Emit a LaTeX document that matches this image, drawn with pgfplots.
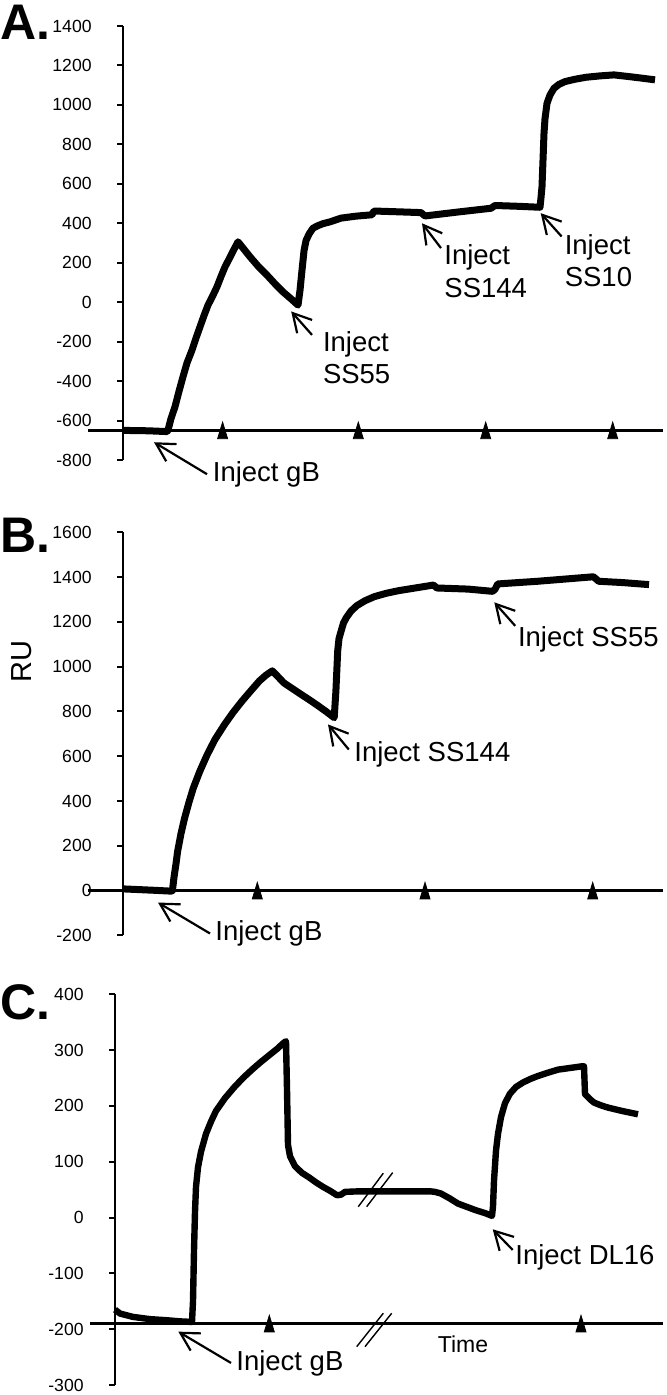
\documentclass[border=0pt]{standalone}
\usepackage{pgfplots}
\pgfplotsset{compat=1.18}
\usepackage{fontspec}
\setmainfont{Liberation Sans}
\usetikzlibrary{arrows.meta}

\newcommand\af{\fontsize{13.75}{16}\selectfont}
\pgfplotsset{panel/.style={
  scale only axis, clip=false,
  axis x line=none, axis y line*=left,
  xmin=0, xtick=\empty,
  tick align=outside, ytick pos=left,
  major tick length=3pt,
  axis line style={line width=1pt, black},
  every tick/.style={line width=1pt, black},
  yticklabel style={font=\fontsize{8.8}{10}\selectfont, anchor=east, inner sep=0pt, xshift=-12.5pt},
  /pgf/number format/assume math mode=true,
  /pgf/number format/1000 sep={},
}}
\tikzset{
  arr/.style={line width=1.1pt, -{Straight Barb[length=9pt, width=10pt]}},
  curve/.style={line width=3.5pt, line join=round, no marks, black},
  tri/.style={only marks, mark=triangle*, mark size=2.9pt, mark options={fill=black, draw=black, yshift=-1.4pt, yscale=1.9}},
}

\begin{document}
\begin{tikzpicture}
\useasboundingbox (0,0) rectangle (333pt,697.5pt);
\node[anchor=base west, inner sep=0pt, font=\fontsize{25}{30}\selectfont\bfseries] at (0pt,677.5pt) {A.};
\node[anchor=base west, inner sep=0pt, font=\fontsize{25}{30}\selectfont\bfseries] at (0pt,421pt) {B.};
\node[anchor=base west, inner sep=0pt, font=\fontsize{25}{30}\selectfont\bfseries] at (0pt,187.5pt) {C.};
\node[rotate=90, inner sep=0pt, font=\fontsize{14.5}{16}\selectfont] at (11pt,366.5pt) {RU};

% ---------------- Panel A ----------------
\begin{axis}[panel, at={(61.5pt,467.5pt)}, anchor=south west,
  width=270pt, height=217pt, xmax=540, ymin=-800, ymax=1400,
  ytick={-800,-600,...,1400}]
\draw[line width=1.2pt] (axis cs:-35,-650) -- (axis cs:540,-650);
\addplot[curve] coordinates {
(0,-650) (25,-652) (44,-656) (45,-649) (48,-590) (52,-530) (56,-452) (60,-378)
(64,-308) (69,-243) (73,-182) (77,-125) (81,-68) (85,-15) (90,35) (94,78)
(98,130) (102,179) (106,218) (110,258) (115,306) (121,268) (127,230) (135,183)
(144,137) (152,93) (160,52) (168,17) (175,-15) (177,60) (179,162) (181,260)
(183,312) (186,345) (190,375) (195,388) (200,398) (207,407) (218,426) (233,436)
(249,443) (251,462) (275,458) (298,454) (302,437) (335,457) (368,476) (372,490)
(395,486) (417,481) (418,530) (419,586) (420,720) (421,856) (422,930) (424,1008)
(427,1050) (431,1084) (436,1104) (442,1118) (452,1130) (463,1140) (477,1147)
(491,1152) (505,1144) (518,1136) (532,1127)};
\addplot[tri] coordinates {(99.6,-650) (235.3,-650) (362.7,-650) (489.7,-650)};
\draw[arr] (axis cs:84,-872) -- (axis cs:31,-710);
\node[anchor=base west, inner sep=0pt, font=\af] at (axis cs:89.5,-909) {Inject gB};
\draw[arr] (axis cs:189,-166) -- (axis cs:168.2,-47);
\node[anchor=base west, inner sep=0pt, font=\af] at (axis cs:199.6,-250) {Inject};
\node[anchor=base west, inner sep=0pt, font=\af] at (axis cs:199.6,-410) {SS55};
\draw[arr] (axis cs:318,274) -- (axis cs:299,400);
\node[anchor=base west, inner sep=0pt, font=\af] at (axis cs:321,189) {Inject};
\node[anchor=base west, inner sep=0pt, font=\af] at (axis cs:321,24) {SS144};
\draw[arr] (axis cs:438.6,333) -- (axis cs:417.7,451);
\node[anchor=base west, inner sep=0pt, font=\af] at (axis cs:441.4,240) {Inject};
\node[anchor=base west, inner sep=0pt, font=\af] at (axis cs:441.4,79) {SS10};
\end{axis}

% ---------------- Panel B ----------------
\begin{axis}[panel, at={(61.5pt,229.75pt)}, anchor=south west,
  width=270pt, height=201.65pt, xmax=540, ymin=-200, ymax=1600,
  ytick={-200,0,...,1600}]
\draw[line width=1.2pt] (axis cs:-35,0) -- (axis cs:540,0);
\addplot[curve] coordinates {
(0,8) (15,5) (30,2) (48,-2) (49.4,0) (51,60) (53,120) (54.6,175) (58,255)
(61.6,324) (66,395) (70.3,458) (77,535) (84.2,607) (92,675) (101.6,742)
(110,795) (119,846) (128,893) (136.4,936) (143,962) (149.3,981) (155,955)
(160.7,928) (170,900) (178.1,876) (187,850) (195.5,824) (203,800) (211.2,772)
(212.9,891) (214.7,1070) (216,1125) (218.2,1160) (220.5,1195) (223.4,1219)
(228,1248) (233.8,1272) (242,1294) (251.2,1312) (263,1327) (275.6,1339)
(296.5,1354) (310.4,1364) (313.9,1351) (345.2,1346) (369.5,1336) (372,1345)
(374.7,1369) (414.8,1381) (470.4,1401) (475.7,1381) (500,1375) (526,1366)};
\addplot[tri] coordinates {(134.3,0) (302,0) (469.7,0)};
\draw[arr] (axis cs:87,-191) -- (axis cs:35,-53);
\node[anchor=base west, inner sep=0pt, font=\af] at (axis cs:92,-222) {Inject gB};
\draw[arr] (axis cs:225.8,630) -- (axis cs:205,742);
\node[anchor=base west, inner sep=0pt, font=\af] at (axis cs:231,575) {Inject SS144};
\draw[arr] (axis cs:392.2,1182) -- (axis cs:371.3,1287);
\node[anchor=base west, inner sep=0pt, font=\af] at (axis cs:394.6,1088) {Inject SS55};
\end{axis}

% ---------------- Panel C ----------------
\begin{axis}[panel, at={(57.5pt,5pt)}, anchor=south west,
  width=274pt, height=195.35pt, xmax=548, ymin=-300, ymax=400,
  ytick={-300,-200,...,400}]
\draw[line width=1.2pt] (axis cs:-25,-190) -- (axis cs:548,-190);
\addplot[curve, line width=3.2pt] coordinates {
(0,-165) (5,-172) (18,-178) (35,-182) (52,-184) (65,-186) (77,-187) (78,-150)
(79,-60) (80,10) (81,55) (83,90) (86,118) (91,150) (96,172) (101,191) (110,214)
(119,233) (128,250) (137,265) (146,279) (155,292) (162,302) (168,312) (171,316)
(172,230) (173,130) (175,110) (180,92) (187,80) (194,72) (201,63) (208,55)
(215,48) (222,40) (226,41) (230,46) (244,47) (280,47) (315,47) (320,46)
(326,43) (335,34) (343,25) (352,19) (361,13) (370,8) (377,3) (378,20) (379,66)
(381,120) (383,150) (386,180) (390,205) (395,222) (401,234) (408,242) (415,248)
(422,253) (432,259) (443,265) (455,268) (467,271) (469,271) (470,221) (475,212)
(479,206) (486,201) (493,197) (500,194) (507,191) (515,188) (523,185)};
\addplot[tri] coordinates {(154.3,-190) (466,-190)};
\draw[line width=0.7pt] (axis cs:243.3,19.5) -- (axis cs:268.3,79.4);
\draw[line width=0.7pt] (axis cs:251.7,19.5) -- (axis cs:277.7,80.5);
\draw[line width=0.7pt] (axis cs:241.7,-231.3) -- (axis cs:268.3,-171.5);
\draw[line width=0.7pt] (axis cs:250,-231.3) -- (axis cs:276.7,-171.5);
\draw[arr] (axis cs:116,-260.5) -- (axis cs:63.3,-204.4);
\node[anchor=base west, inner sep=0pt, font=\af] at (axis cs:121,-274.9) {Inject gB};
\draw[arr] (axis cs:397.7,-58) -- (axis cs:377.7,-21);
\node[anchor=base west, inner sep=0pt, font=\af] at (axis cs:400,-85) {Inject DL16};
\node[anchor=base, inner sep=0pt, font=\fontsize{11.5}{13}\selectfont] at (axis cs:348,-242.6) {Time};
\end{axis}
\end{tikzpicture}
\end{document}
